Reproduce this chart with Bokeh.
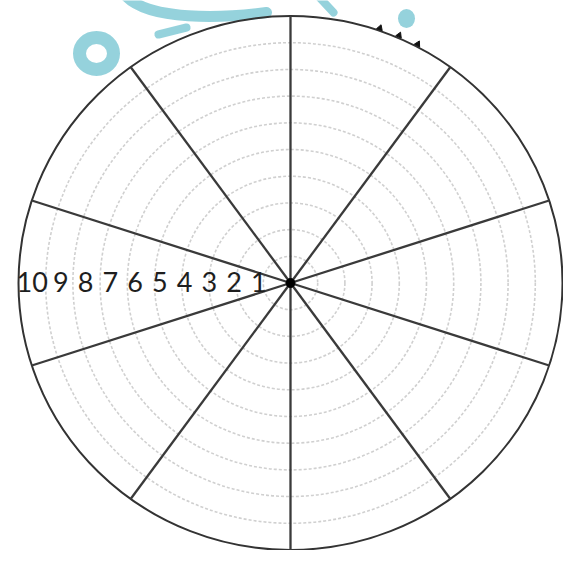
import numpy as np
from bokeh.plotting import figure
from bokeh.models import Range1d, ColumnDataSource
from bokeh.embed import file_html
from bokeh.resources import INLINE
from bokeh.core.properties import value

# ---- data ----
segments = 10                      # number of wheel segments
ring_levels = [1, 2, 3, 4, 5, 6, 7, 8, 9]   # dotted score rings
outer_level = 10
scale_labels = ["1", "2", "3", "4", "5", "6", "7", "8", "9", "10"]
scale_values = [1, 2, 3, 4, 5, 6, 7, 8, 9, 10]
first_spoke_deg = 90
rim_mark_deg = [71.0, 66.7, 62.4]  # small marks on the rim (top right)

W, H = 563, 550
cx_px, cy_px = 290, 282.5
sx, sy = 27.2, 26.7   # px per ring level

p = figure(width=W, height=H, output_backend="svg", toolbar_location=None,
           x_range=Range1d(-cx_px / sx, (W - cx_px) / sx),
           y_range=Range1d(-(H - cy_px) / sy, cy_px / sy),
           min_border=0)
p.axis.visible = False
p.grid.visible = False
p.outline_line_color = None
p.background_fill_color = "white"
p.border_fill_color = "white"


def px(v):
    return (v - cx_px) / sx


def py(v):
    return (cy_px - v) / sy


wm_col = "#8acdd8"
# decorative watermark (behind the wheel)
p.ellipse(x=[px(96)], y=[py(53)], width=[34 / sx], height=[32 / sy],
          fill_color=None, line_color=wm_col, line_width=13, line_alpha=0.9)
p.bezier(x0=[px(126)], y0=[py(-4)], x1=[px(266)], y1=[py(12)],
         cx0=[px(150)], cy0=[py(20)], cx1=[px(220)], cy1=[py(18)],
         line_color=wm_col, line_width=11, line_alpha=0.9, line_cap="round")
p.segment(x0=[px(158), px(319)], y0=[py(34), py(-3)], x1=[px(186), px(333)], y1=[py(27), py(12)],
          line_color=wm_col, line_width=8, line_alpha=0.9, line_cap="round")
p.ellipse(x=[px(406)], y=[py(18)], width=[17 / sx], height=[19 / sy],
          fill_color=wm_col, line_color=None, fill_alpha=0.9)

# dotted rings
p.ellipse(x=0, y=0, width=[2 * r for r in ring_levels], height=[2 * r for r in ring_levels],
          fill_color=None, line_color="#d0d0d0", line_width=1.6, line_dash="3 2")

# outer circle
p.ellipse(x=[0], y=[0], width=[2 * outer_level], height=[2 * outer_level],
          fill_color=None, line_color="#333333", line_width=2)

# spokes
ang = np.deg2rad(first_spoke_deg - 360.0 / segments * np.arange(segments))
p.segment(x0=0, y0=0, x1=outer_level * np.cos(ang), y1=outer_level * np.sin(ang),
          line_color="#3a3a3a", line_width=2.3)

# little marks on the rim
ta = np.deg2rad(rim_mark_deg)
p.scatter(x=10.1 * np.cos(ta), y=10.1 * np.sin(ta), marker="triangle", size=6,
          angle=ta - np.pi / 2, color="#111111")

# centre dot
p.scatter(x=[0], y=[0], size=9, color="black")

# scale labels along the left horizontal
lab_x = [-(25.2 * v + 7 + (4 if len(t) > 1 else 0)) / 27.7
         for v, t in zip(scale_values, scale_labels)]
src = ColumnDataSource(dict(x=lab_x, y=[0.05] * len(scale_values), t=scale_labels))
p.text(x="x", y="y", text="t", source=src, text_font=value("Lato"),
       text_font_size="27px", text_align="center", text_baseline="middle",
       text_color="#1e1e1e")

open("out.html", "w").write(file_html(p, INLINE))
